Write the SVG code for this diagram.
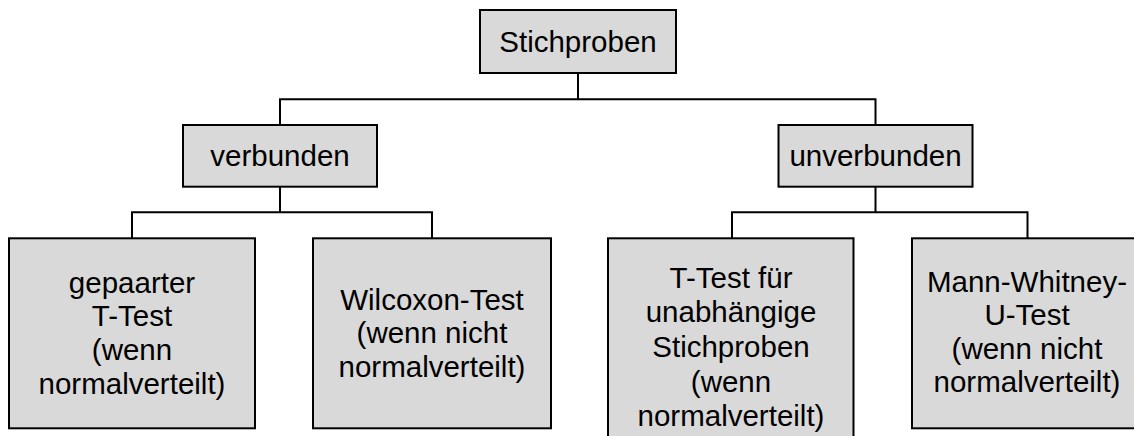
<svg xmlns="http://www.w3.org/2000/svg" width="1134" height="436" viewBox="0 0 1134 436">
<style>
.box{fill:#d9d9d9;stroke:#000;stroke-width:2}
.lbl{font-family:"Liberation Sans",Arial,sans-serif;font-size:29.5px;fill:#000;text-anchor:middle}
.conn{fill:none;stroke:#000;stroke-width:2}
</style>
<rect width="1134" height="436" fill="#fff"/>
<g id="connectors" class="conn">
<path d="M578,73 V99.3 M280,125 V99.3 H875.5 V125"/>
<path d="M280,186.7 V212.3 M132,238.3 V212.3 H432 V238.3"/>
<path d="M875.5,186.7 V212.3 M732,238.3 V212.3 H1027.5 V238.3"/>
</g>
<g id="stichproben">
<rect class="box" x="480" y="10" width="196" height="63"/>
<text class="lbl" x="578" y="51.8">Stichproben</text>
</g>
<g id="verbunden">
<rect class="box" x="183" y="125" width="194" height="61.7"/>
<text class="lbl" x="280" y="165.5">verbunden</text>
</g>
<g id="unverbunden">
<rect class="box" x="778.5" y="125" width="194" height="61.7"/>
<text class="lbl" x="875.5" y="165.5">unverbunden</text>
</g>
<g id="gepaarter">
<rect class="box" x="9" y="238.3" width="246" height="190"/>
<text class="lbl" x="132" y="292.7">gepaarter</text>
<text class="lbl" x="132" y="326.3">T-Test</text>
<text class="lbl" x="132" y="359.9">(wenn</text>
<text class="lbl" x="132" y="393.5">normalverteilt)</text>
</g>
<g id="wilcoxon">
<rect class="box" x="313" y="238.3" width="238" height="190"/>
<text class="lbl" x="432" y="310">Wilcoxon-Test</text>
<text class="lbl" x="432" y="343.4">(wenn nicht</text>
<text class="lbl" x="432" y="376.8">normalverteilt)</text>
</g>
<g id="ttest">
<rect class="box" x="608" y="238.3" width="245.5" height="220"/>
<text class="lbl" x="731" y="287.5">T-Test für</text>
<text class="lbl" x="731" y="322.2">unabhängige</text>
<text class="lbl" x="731" y="356.9">Stichproben</text>
<text class="lbl" x="731" y="391.6">(wenn</text>
<text class="lbl" x="731" y="426.3">normalverteilt)</text>
</g>
<g id="mannwhitney">
<rect class="box" x="912" y="238.3" width="240" height="190"/>
<text class="lbl" x="1027" y="291.7">Mann-Whitney-</text>
<text class="lbl" x="1027" y="325.1">U-Test</text>
<text class="lbl" x="1027" y="358.5">(wenn nicht</text>
<text class="lbl" x="1027" y="391.9">normalverteilt)</text>
</g>
</svg>
